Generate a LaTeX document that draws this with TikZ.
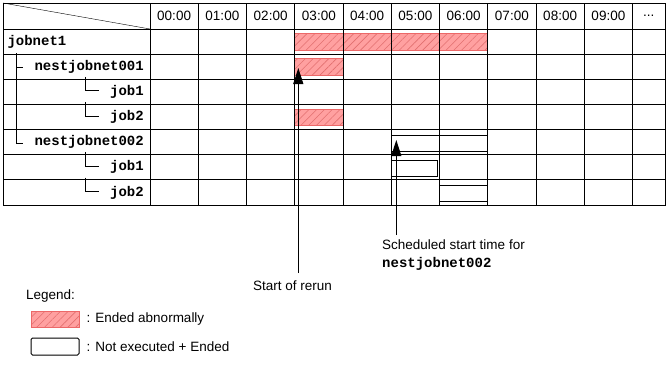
\documentclass[tikz,border=0pt]{standalone}
\usepackage{fontspec}
\setmainfont{Liberation Sans}
\newfontfamily\jobfont{Liberation Mono}
\usetikzlibrary{positioning,patterns.meta,arrows.meta}

\definecolor{abendfill}{RGB}{255,160,160}
\definecolor{abendline}{RGB}{236,104,104}
\definecolor{abendhatch}{RGB}{226,112,112}

\tikzset{
	grid/.style    = {line width=1pt},
	tree/.style    = {line width=1pt},
	abend/.style   = {draw=abendline, line width=1pt, preaction={fill=abendfill},
	                  pattern={Lines[angle=45, distance=5.5pt, line width=0.6pt]}, pattern color=abendhatch},
	notrun/.style  = {draw, line width=1pt, fill=white},
	jobname/.style = {font=\jobfont\bfseries\fontsize{14}{16}\selectfont, inner sep=0pt},
	note/.style    = {font=\fontsize{13.5}{18}\selectfont, inner sep=0pt},
	marker/.style  = {line width=1pt, -{Triangle[width=10pt, length=16pt]}}
}

\begin{document}
\begin{tikzpicture}[x=1pt, y=-1pt]
	\useasboundingbox (0,0) rectangle (668,364);
	% bars
	\draw[abend]  (294.75,33.3)  rectangle (487.75,50.7);
	\draw[abend]  (294.75,58.3)  rectangle (343,75.7);
	\draw[abend]  (294.75,109)   rectangle (343,125.7);
	\draw[notrun] (391.25,135)   rectangle (487.75,151);
	\draw[notrun] (391.25,160.3) rectangle (437.3,176.3);
	\draw[notrun] (439.5,185.3)  rectangle (487.75,201.3);
	% grid
	\draw[grid] (3,3) rectangle (665,205);
	\draw[grid] (150,3) -- (150,205);
	\foreach \i in {1,...,10}
		\draw[grid] ({150+48.25*\i},3) -- ({150+48.25*\i},205);
	\foreach \j in {0,...,6}
		\draw[grid] (3,{29+25.15*\j}) -- (665,{29+25.15*\j});
	\draw (3,3) -- (150,29);
	% hours
	\foreach \h in {0,...,9}
		\node[note] (t\h) at ({150+48.25*(\h+0.5)},16) {0\h:00};
	\node[note] (tmore) at (648.75,16) {...};
	% jobs
	\node[jobname, anchor=west] (jobnet1) at (7.3,41.6)  {jobnet1};
	\node[jobname, anchor=east] (nest1)   at (144,66.7)  {nestjobnet001};
	\node[jobname, anchor=east] (job1a)   at (144,91.9)  {job1};
	\node[jobname, anchor=east] (job2a)   at (144,117)   {job2};
	\node[jobname, anchor=east] (nest2)   at (144,142.2) {nestjobnet002};
	\node[jobname, anchor=east] (job1b)   at (144,167.3) {job1};
	\node[jobname, anchor=east] (job2b)   at (144,192.5) {job2};
	% tree lines
	\coordinate (trunk)  at ([xshift=9.4pt, yshift=-11.5pt]jobnet1.west);
	\coordinate (n1stub) at ([xshift=-11pt, yshift=-1pt]nest1.west);
	\draw[tree] (trunk) |- ([xshift=-11pt, yshift=-1pt]nest2.west);
	\draw[tree] (trunk |- n1stub) -- (n1stub);
	\foreach \n in {job1a, job2a, job1b, job2b}
		\draw[tree] ([xshift=-24.6pt, yshift=15pt]\n.west) |- ([xshift=-11.4pt, yshift=1pt]\n.west);
	% markers
	\coordinate (rerunpt) at (298.3,68);
	\coordinate (schedpt) at (396.3,140);
	\node[note, anchor=north, outer ysep=8pt] (rerun) at (292.5,273) {Start of rerun};
	\node[note, anchor=north west, align=left, outer ysep=5pt] (sched) at (382,235)
		{Scheduled start time for\\{\jobfont\bfseries\fontsize{14}{16}\selectfont nestjobnet002}};
	\draw[marker] (rerun.north -| rerunpt) -- (rerunpt);
	\draw[marker] (sched.north -| schedpt) -- (schedpt);
	% legend
	\node[note, anchor=west] (legend) at (26,296) {Legend:};
	\node[abend, minimum width=48pt, minimum height=16pt, inner sep=0pt] (abendbox) at (55,319) {};
	\node[notrun, rounded corners=1.5pt, minimum width=48pt, minimum height=17pt, inner sep=0pt] (notrunbox) at (55,346.5) {};
	\node[note, right=7pt of abendbox]  (abendkey)  {: Ended abnormally};
	\node[note, right=7pt of notrunbox] (notrunkey) {: Not executed + Ended};
\end{tikzpicture}
\end{document}
